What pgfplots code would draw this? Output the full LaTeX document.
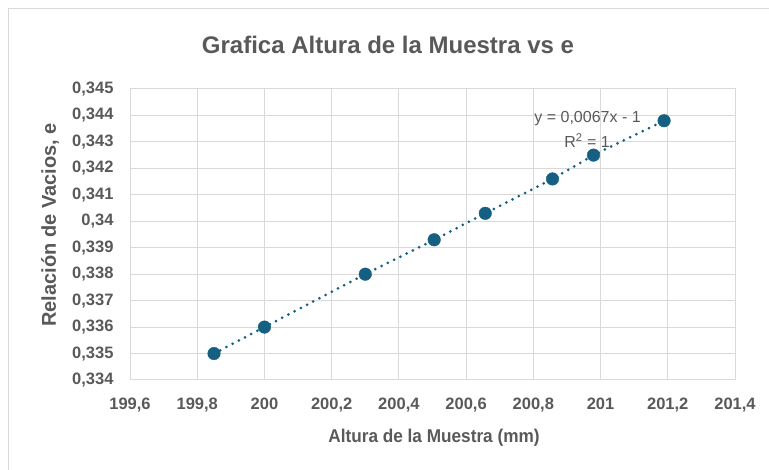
\documentclass[border=0pt]{standalone}
\usepackage{fontspec}
\setmainfont{Liberation Sans}
\newfontfamily\condfont[FakeStretch=0.93]{Liberation Sans}
\usepackage{pgfplots}
\usepackage{pgfplotstable}
\pgfplotsset{compat=1.18}
\definecolor{mk}{HTML}{156082}
\definecolor{txt}{HTML}{595959}
\definecolor{grd}{HTML}{D9D9D9}
\pgfplotstableread{
x y
199.85 0.3350
200.00 0.3360
200.30 0.3380
200.505 0.3393
200.657 0.3403
200.857 0.3416
200.979 0.3425
201.189 0.3438
}\datatab
\begin{document}
\begin{tikzpicture}
\useasboundingbox (0pt,0pt) rectangle (769pt,470pt);
\draw[grd, line width=1pt] (8pt,-2pt) rectangle (772pt,461pt);
\node[txt, font={\bfseries\fontsize{24}{28}\selectfont}] at (388pt,425pt) {Grafica Altura de la Muestra vs e};
\node[txt, font={\condfont\bfseries\fontsize{18.5}{22}\selectfont}] at (434pt,32pt) {Altura de la Muestra (mm)};
\node[txt, rotate=90, font={\bfseries\fontsize{20}{24}\selectfont}] at (50pt,245pt) {Relación de Vacios, e};
\begin{axis}[
  at={(130pt,90pt)}, anchor=south west,
  width=605pt, height=291pt, scale only axis,
  xmin=199.6, xmax=201.4, ymin=0.334, ymax=0.345,
  xtick={199.6,199.8,200,200.2,200.4,200.6,200.8,201,201.2,201.4},
  ytick={0.334,0.335,0.336,0.337,0.338,0.339,0.340,0.341,0.342,0.343,0.344,0.345},
  xticklabel style={txt, yshift=-14pt, font={\bfseries\fontsize{16.5}{19}\selectfont}, /pgf/number format/.cd, fixed, precision=1, use comma, assume math mode=true},
  yticklabel style={txt, xshift=-13pt, font={\bfseries\fontsize{16.5}{19}\selectfont}, /pgf/number format/.cd, fixed, precision=3, use comma, assume math mode=true},
  scaled y ticks=false, scaled x ticks=false,
  major tick length=0pt,
  grid=major,
  major grid style={grd, line width=1pt},
  axis line style={grd, line width=1pt},
  xtick pos=bottom, ytick pos=left,
  clip=false,
]
\addplot[mk, line width=3pt, line cap=round, dash pattern=on 0pt off 7pt, no marks]
  table[x=x, y=y] {\datatab};
\addplot[only marks, mark=*, mark size=6.3pt, mk, mark options={fill=mk, draw=mk}] table[x=x,y=y] {\datatab};
\node[txt, anchor=east, font={\fontsize{16}{19}\selectfont}] at (axis cs:201.13,0.34387) {y = 0,0067x - 1};
\node[txt, font={\fontsize{16}{19}\selectfont}] at (axis cs:200.96,0.34304) {R\textsuperscript{2} = 1};
\end{axis}
\end{tikzpicture}
\end{document}
